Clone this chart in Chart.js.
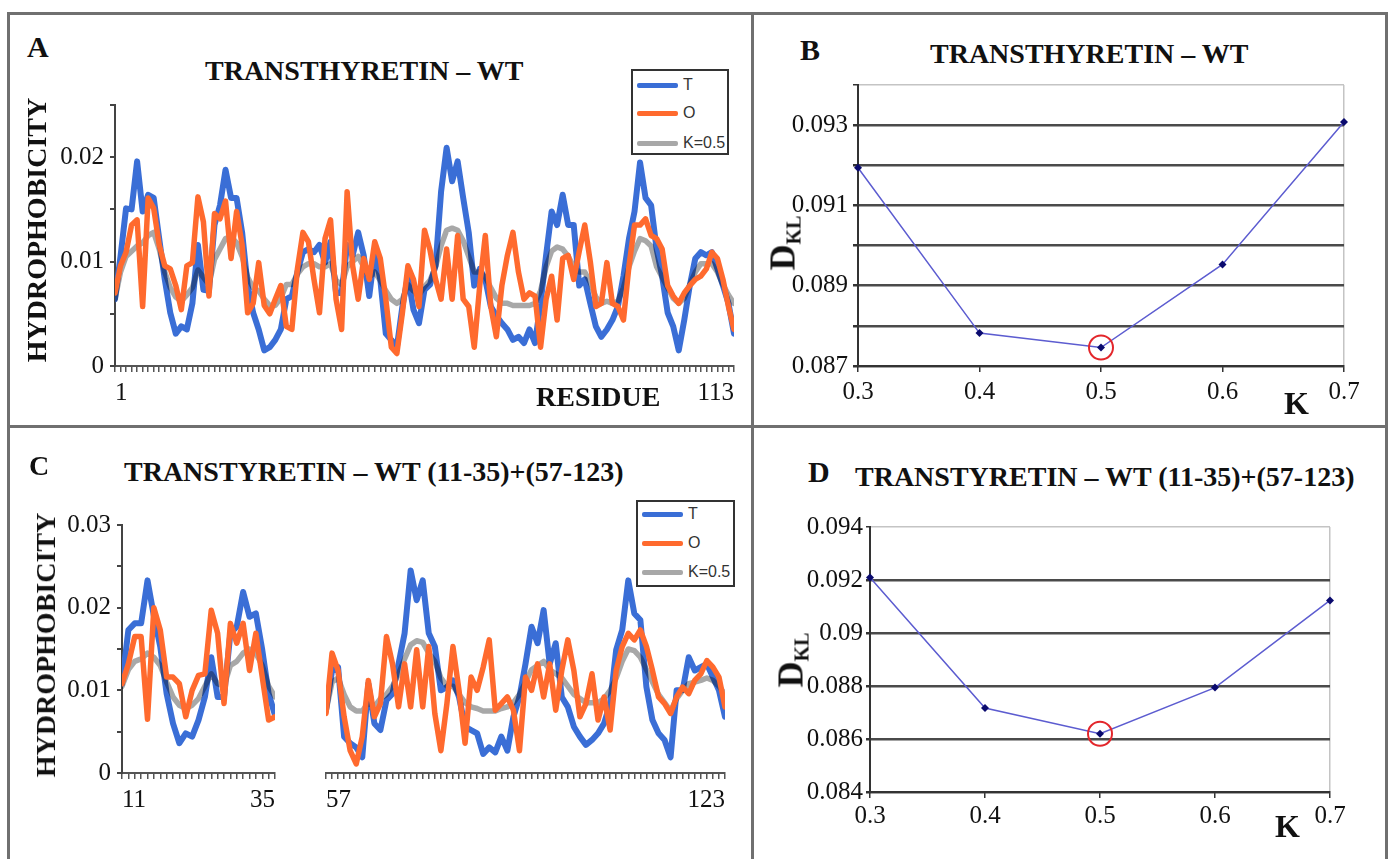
<!DOCTYPE html>
<html>
<head>
<meta charset="utf-8">
<script src="https://cdn.jsdelivr.net/npm/chart.js@4.4.1/dist/chart.umd.min.js"></script>
<style>
  body { margin: 0; background: #fff; }
  #page { position: relative; width: 1392px; height: 859px; overflow: hidden; background: #fff; }
  .t { position: absolute; white-space: nowrap; line-height: 1; font-family: "Liberation Serif", "Times New Roman", serif; color: #111; }
  .b { font-weight: bold; }
  canvas { position: absolute; }
  .rule { position: absolute; background: #707070; }
  .legend { position: absolute; border: 2px solid #333; background: #fff; box-sizing: border-box; z-index: 2; }
  .legend .sw { position: absolute; left: 4px; width: 41px; height: 5px; border-radius: 2px; }
  .legend .lt { position: absolute; left: 50px; font: 16px "Liberation Sans", Arial, sans-serif; color: #333; line-height: 18px; }
</style>
</head>
<body>
<div id="page"></div>
<script>
// residue numbers (x categories)
const residuesA = Array.from({length: 113}, (_, i) => i + 1);
const residuesC1 = Array.from({length: 25}, (_, i) => i + 11);
const residuesC2 = Array.from({length: 67}, (_, i) => i + 57);

// panel A, residues 1-113
const hydroT_A = [0.0064,0.0105,0.0151,0.015,0.0196,0.0148,0.0164,0.0161,0.0122,0.0083,
  0.0051,0.0031,0.0038,0.0035,0.006,0.0116,0.0073,0.0072,0.0135,0.0154,
  0.0188,0.0161,0.0161,0.0128,0.0077,0.0051,0.0035,0.0015,0.0018,0.0025,
  0.0035,0.0064,0.0067,0.009,0.0109,0.0112,0.0109,0.0116,0.0099,0.0119,
  0.007,0.007,0.0116,0.0106,0.0128,0.0106,0.0067,0.0109,0.0083,0.0031,
  0.0025,0.0018,0.0057,0.0086,0.0054,0.0041,0.0073,0.0078,0.0096,0.0167,
  0.0209,0.0177,0.0196,0.0161,0.0128,0.0077,0.0093,0.0083,0.0057,0.0048,
  0.0041,0.0035,0.0025,0.0028,0.0022,0.0035,0.0022,0.006,0.0106,0.0148,
  0.0135,0.0164,0.0135,0.0135,0.0077,0.0083,0.006,0.0038,0.0028,0.0035,
  0.0044,0.0057,0.0086,0.0122,0.0148,0.0195,0.0161,0.0154,0.0112,0.0086,
  0.0051,0.0038,0.0015,0.0044,0.0077,0.0103,0.0109,0.0106,0.0109,0.0093,
  0.0077,0.006,0.0031];
const hydroO_A = [0.007,0.0096,0.0109,0.0135,0.014,0.0057,0.0161,0.0151,0.0116,0.0096,
  0.0093,0.0077,0.0054,0.0096,0.0099,0.0162,0.0138,0.0067,0.0146,0.0141,
  0.0158,0.0103,0.0148,0.0116,0.0051,0.006,0.0099,0.0058,0.005,0.0064,
  0.0077,0.0038,0.0035,0.0093,0.0128,0.0119,0.0083,0.0051,0.0122,0.014,
  0.0064,0.0035,0.0167,0.0096,0.0064,0.0103,0.0083,0.0119,0.0103,0.0064,
  0.0018,0.0012,0.0051,0.0096,0.0083,0.0057,0.013,0.0111,0.0083,0.0064,
  0.0112,0.0064,0.0125,0.0064,0.0057,0.0018,0.0077,0.0125,0.0057,0.0028,
  0.0077,0.0106,0.0128,0.009,0.0064,0.007,0.0067,0.0018,0.0064,0.0086,
  0.0044,0.0103,0.0106,0.0083,0.011,0.0135,0.01,0.0057,0.006,0.0099,
  0.006,0.0057,0.0044,0.0096,0.0135,0.0135,0.0141,0.0125,0.0122,0.0112,
  0.0077,0.0067,0.006,0.007,0.0077,0.0083,0.0086,0.0093,0.0109,0.0103,
  0.0083,0.0057,0.0035];
const hydroK_A = [0.0064,0.009,0.0105,0.011,0.0115,0.0118,0.0125,0.0128,0.0112,0.009,
  0.0075,0.0066,0.0062,0.0068,0.0075,0.0092,0.0085,0.0078,0.0102,0.0112,
  0.0122,0.0124,0.0118,0.0105,0.0085,0.0075,0.0072,0.0064,0.0058,0.0058,
  0.0065,0.0078,0.0078,0.0088,0.0095,0.0098,0.0098,0.0095,0.0095,0.0098,
  0.0082,0.0078,0.0095,0.01,0.0105,0.0095,0.0085,0.009,0.0082,0.0072,
  0.0064,0.006,0.0064,0.0078,0.0072,0.0068,0.0076,0.0082,0.0095,0.0115,
  0.013,0.0132,0.013,0.012,0.0105,0.009,0.009,0.0085,0.0075,0.0065,
  0.006,0.006,0.0058,0.0058,0.0058,0.0058,0.006,0.0072,0.0095,0.011,
  0.0114,0.0112,0.0105,0.0095,0.009,0.009,0.008,0.0066,0.006,0.0062,
  0.006,0.0062,0.0075,0.0095,0.011,0.0122,0.012,0.0115,0.0095,0.0085,
  0.0075,0.0065,0.006,0.0065,0.0078,0.009,0.0098,0.0098,0.0098,0.009,
  0.0078,0.0068,0.006];

// panel C, residues 11-35
const hydroT_C1 = [0.0108,0.0173,0.0181,0.0181,0.0233,0.019,0.0153,0.0096,0.006,0.0036,
  0.0048,0.0044,0.0064,0.0092,0.014,0.0092,0.0092,0.0169,0.0177,0.0219,
  0.0189,0.0193,0.0149,0.0096,0.007];
const hydroO_C1 = [0.0108,0.0132,0.0165,0.0165,0.0065,0.02,0.0173,0.0116,0.0116,0.0108,
  0.0068,0.01,0.0118,0.012,0.0197,0.0169,0.0084,0.0181,0.0157,0.0181,
  0.0124,0.0169,0.0116,0.0064,0.0068];
const hydroK_C1 = [0.0105,0.0125,0.0135,0.0138,0.0145,0.014,0.013,0.011,0.0092,0.0082,
  0.0078,0.0082,0.009,0.0105,0.012,0.0108,0.0105,0.013,0.0135,0.0145,
  0.015,0.0145,0.013,0.0105,0.0092];

// panel C, residues 57-123
const hydroT_C2 = [0.0076,0.0124,0.0128,0.0044,0.0036,0.0031,0.0019,0.0108,0.006,0.0052,
  0.0088,0.0096,0.0132,0.0169,0.0245,0.0209,0.0233,0.0169,0.0153,0.01,
  0.0104,0.0112,0.0092,0.0056,0.0052,0.0048,0.0023,0.0031,0.0025,0.0044,
  0.0027,0.0068,0.0092,0.0132,0.0177,0.0157,0.0197,0.0132,0.0157,0.0092,
  0.008,0.0056,0.0044,0.0034,0.004,0.0048,0.006,0.0084,0.0149,0.0173,
  0.0233,0.0193,0.0185,0.0104,0.0064,0.0048,0.004,0.0019,0.01,0.01,
  0.014,0.0124,0.0128,0.0132,0.0116,0.01,0.0068];
const hydroO_C2 = [0.0072,0.0145,0.0124,0.0068,0.0027,0.0011,0.0044,0.0112,0.0068,0.0084,
  0.0165,0.0132,0.008,0.0132,0.008,0.0149,0.008,0.0153,0.0072,0.0027,
  0.0084,0.0153,0.01,0.0036,0.0116,0.01,0.0128,0.0161,0.0076,0.0084,
  0.0092,0.0076,0.0027,0.0116,0.01,0.0132,0.0092,0.0132,0.0076,0.0124,
  0.0161,0.0124,0.0068,0.0084,0.012,0.0064,0.0092,0.0052,0.0124,0.0153,
  0.0169,0.0161,0.0173,0.0153,0.0124,0.0092,0.0084,0.0072,0.0092,0.0104,
  0.0096,0.0112,0.012,0.0136,0.0128,0.0116,0.008];
const hydroK_C2 = [0.0075,0.011,0.0115,0.0095,0.008,0.0075,0.0075,0.0085,0.008,0.009,
  0.0095,0.0105,0.012,0.0138,0.0155,0.016,0.0158,0.0145,0.0135,0.0115,
  0.0105,0.0105,0.0095,0.0085,0.008,0.0078,0.0075,0.0075,0.0075,0.0078,
  0.008,0.0085,0.0095,0.011,0.0125,0.013,0.0135,0.0125,0.012,0.0115,
  0.0105,0.0095,0.009,0.0085,0.0085,0.0085,0.009,0.01,0.0115,0.0135,
  0.015,0.0148,0.014,0.0125,0.011,0.0095,0.0085,0.0075,0.009,0.01,
  0.0108,0.011,0.0112,0.0115,0.0112,0.0105,0.0095];

// panels B and D
const kValues = [0.3, 0.4, 0.5, 0.6, 0.7];
const dklB = [0.09194, 0.08782, 0.08746, 0.08953, 0.09308];
const dklD = [0.09209, 0.08717, 0.0862, 0.08794, 0.09123];
const bestK = 0.5;

const seriesNames = ['T', 'O', 'K=0.5'];
const seriesColors = ['#3a6ed6', '#ff6a2e', '#a8a8a8'];

const SERIF = '"Liberation Serif", "Times New Roman", serif';
const tickFont = {family: SERIF, size: 25};

const page = document.getElementById('page');
Chart.defaults.font.family = SERIF;

function addText(txt, x, capTop, size, bold) {
  const d = document.createElement('div');
  d.className = 't' + (bold ? ' b' : '');
  d.textContent = txt;
  d.style.fontSize = size + 'px';
  d.style.left = x + 'px';
  d.style.top = (capTop - 0.175 * size) + 'px';
  page.appendChild(d);
}

function addRotated(html, cx, cy, size) {
  const d = document.createElement('div');
  d.className = 't b';
  d.innerHTML = html;
  d.style.fontSize = size + 'px';
  d.style.left = cx + 'px';
  d.style.top = cy + 'px';
  d.style.transform = 'translate(-50%,-50%) rotate(-90deg)';
  page.appendChild(d);
}

function addRule(x, y, w, h) {
  const d = document.createElement('div');
  d.className = 'rule';
  d.style.cssText = `left:${x}px;top:${y}px;width:${w}px;height:${h}px`;
  page.appendChild(d);
}

function addLegend(x, y, w, h, rowY) {
  const box = document.createElement('div');
  box.className = 'legend';
  box.style.cssText = `left:${x}px;top:${y}px;width:${w}px;height:${h}px`;
  seriesNames.forEach((name, i) => {
    const sw = document.createElement('div');
    sw.className = 'sw';
    sw.style.top = (rowY[i] - 2.5) + 'px';
    sw.style.background = seriesColors[i];
    box.appendChild(sw);
    const tx = document.createElement('div');
    tx.className = 'lt';
    tx.textContent = name;
    tx.style.top = (rowY[i] - 9) + 'px';
    box.appendChild(tx);
  });
  page.appendChild(box);
}

function makeCanvas(box) {
  const c = document.createElement('canvas');
  c.width = box.w;
  c.height = box.h;
  c.style.left = box.x + 'px';
  c.style.top = box.y + 'px';
  page.appendChild(c);
  return c;
}

// gray K curve is multiplied over the blue one, giving the dark overlap
const multiplyK = {
  id: 'multiplyK',
  beforeDatasetDraw(chart, args) {
    if (chart.data.datasets[args.index].label === 'K=0.5') chart.ctx.globalCompositeOperation = 'multiply';
  },
  afterDatasetDraw(chart) {
    chart.ctx.globalCompositeOperation = 'source-over';
  }
};

const hydroLabel = v => {
  const m = Math.round(v * 1000);
  if (m === 0) return '0';
  return m % 10 === 0 ? (m / 1000).toFixed(2) : '';
};

function profileChart(box, area, residues, t, o, k, yMax, showY) {
  const first = residues[0], last = residues[residues.length - 1];
  const pts = arr => arr.map((v, i) => ({x: residues[i], y: v}));
  const line = (label, data, color, w) => ({label, data: pts(data), borderColor: color, borderWidth: w,
    pointRadius: 0, tension: 0, borderJoinStyle: 'round', borderCapStyle: 'round', fill: false});
  new Chart(makeCanvas(box), {
    type: 'line',
    data: {
      datasets: [
        line('O', o, seriesColors[1], 5.5),
        line('K=0.5', k, seriesColors[2], 5.5),
        line('T', t, seriesColors[0], 6)
      ]
    },
    options: {
      responsive: false, animation: false, devicePixelRatio: 1,
      layout: {padding: {top: area.t - box.y, right: box.x + box.w - area.r, left: showY ? 0 : area.l - box.x, bottom: 0}},
      plugins: {legend: {display: false}, tooltip: {enabled: false}},
      scales: {
        x: {
          type: 'linear', min: first, max: last,
          afterFit(s) { s.height = box.y + box.h - area.b; s.paddingLeft = 0; s.paddingRight = 0; },
          ticks: {stepSize: 1, autoSkip: false, maxRotation: 0, minRotation: 0, align: 'inner', padding: 6,
            color: '#111', font: tickFont,
            callback: v => (v === first || v === last) ? String(v) : ''},
          grid: {drawOnChartArea: false, tickLength: 6, color: '#555', lineWidth: 1.5},
          border: {color: '#555', width: 2}
        },
        y: {
          display: showY, min: 0, max: yMax,
          afterFit(s) { s.width = area.l - box.x; s.paddingTop = 0; s.paddingBottom = 0; },
          ticks: {stepSize: 0.005, autoSkip: false, padding: 6, color: '#111', font: tickFont, callback: hydroLabel},
          grid: {drawOnChartArea: false, tickLength: 5, color: '#444', lineWidth: 2},
          border: {color: '#444', width: 2}
        }
      }
    },
    plugins: [multiplyK]
  });
}

function dklChart(box, area, dkl, yMin, yMax, yStep, labelFn, tickLen, pad) {
  const near = (a, b) => Math.abs(a - b) < 1e-9;
  new Chart(makeCanvas(box), {
    type: 'line',
    data: {
      datasets: [
        {label: 'min', data: [{x: bestK, y: dkl[kValues.indexOf(bestK)]}], showLine: false, clip: 20,
          pointStyle: 'circle', pointRadius: 12, pointBorderWidth: 2, pointBorderColor: '#e3262b',
          pointBackgroundColor: 'rgba(0,0,0,0)'},
        {label: 'DKL', data: kValues.map((k, i) => ({x: k, y: dkl[i]})), clip: 10,
          borderColor: '#5c5cd0', borderWidth: 1.5, tension: 0,
          pointStyle: 'rectRot', pointRadius: 4, pointBorderWidth: 0,
          pointBackgroundColor: '#0a0a6e'}
      ]
    },
    options: {
      responsive: false, animation: false, devicePixelRatio: 1,
      layout: {padding: {top: area.t - box.y, right: box.x + box.w - area.r, left: 0, bottom: 0}},
      plugins: {legend: {display: false}, tooltip: {enabled: false}},
      scales: {
        x: {
          type: 'linear', min: 0.3, max: 0.7,
          afterFit(s) { s.height = box.y + box.h - area.b; s.paddingLeft = 0; s.paddingRight = 0; },
          ticks: {stepSize: 0.1, padding: pad, color: '#111', font: tickFont, maxRotation: 0, callback: v => v.toFixed(1)},
          grid: {tickLength: 6, tickColor: '#333', lineWidth: 1.5,
            color: c => near(c.tick.value, 0.7) ? '#c4c4c4' : 'rgba(0,0,0,0)'},
          border: {color: '#333', width: 2}
        },
        y: {
          min: yMin, max: yMax,
          afterFit(s) { s.width = area.l - box.x; s.paddingTop = 0; s.paddingBottom = 0; },
          ticks: {stepSize: yStep, autoSkip: false, padding: pad, color: '#111', font: tickFont, callback: labelFn},
          grid: {tickLength: tickLen, tickColor: '#333',
            color: c => near(c.tick.value, yMax) ? '#c4c4c4' : '#4a4a4a',
            lineWidth: c => near(c.tick.value, yMax) ? 1.5 : 2.5},
          border: {color: '#333', width: 2}
        }
      }
    }
  });
}

// frame
addRule(7, 12, 1381, 3);
addRule(7, 12, 3, 847);
addRule(1385, 12, 3, 847);
addRule(751, 12, 3, 847);
addRule(7, 425, 1381, 3);

// panel A
profileChart({x: 30, y: 90, w: 720, h: 320}, {l: 115, t: 105, r: 734, b: 366},
  residuesA, hydroT_A, hydroO_A, hydroK_A, 0.025, true);
addText('A', 27, 37, 30, true);
addText('TRANSTHYRETIN – WT', 205, 62, 28, true);
addRotated('HYDROPHOBICITY', 37, 230, 28);
addText('RESIDUE', 536, 388, 28, true);
addLegend(631, 69, 98, 86, [14, 42, 72]);

// panel B
dklChart({x: 775, y: 70, w: 600, h: 340}, {l: 858, t: 85, r: 1344, b: 366},
  dklB, 0.087, 0.094, 0.001,
  v => { const m = Math.round(v * 1000); return m % 2 === 1 ? (m / 1000).toFixed(3) : ''; }, 5, 5);
addText('B', 800, 40, 30, true);
addText('TRANSTHYRETIN – WT', 930, 45, 28, true);
addRotated('D<span style="font-size:20px;vertical-align:-0.3em">KL</span>', 784, 243, 36);
addText('K', 1284, 393, 32, true);

// panel C
profileChart({x: 40, y: 510, w: 250, h: 320}, {l: 122, t: 525, r: 275, b: 773},
  residuesC1, hydroT_C1, hydroO_C1, hydroK_C1, 0.03, true);
profileChart({x: 290, y: 510, w: 450, h: 320}, {l: 308, t: 525, r: 725, b: 773},
  residuesC2, hydroT_C2, hydroO_C2, hydroK_C2, 0.03, false);
addText('C', 29, 457, 28, true);
addText('TRANSTYRETIN – WT (11-35)+(57-123)', 124, 463, 28, true);
addRotated('HYDROPHOBICITY', 46, 645, 28);
addLegend(636, 500, 99, 87, [12, 41, 70]);

// panel D
dklChart({x: 780, y: 510, w: 590, h: 340}, {l: 870, t: 527, r: 1330, b: 792},
  dklD, 0.084, 0.094, 0.002, v => String(Math.round(v * 1000) / 1000), 4, 3);
addText('D', 808, 462, 30, true);
addText('TRANSTYRETIN – WT (11-35)+(57-123)', 855, 468, 28, true);
addRotated('D<span style="font-size:20px;vertical-align:-0.3em">KL</span>', 792, 660, 36);
addText('K', 1275, 816, 32, true);
</script>
</body>
</html>
